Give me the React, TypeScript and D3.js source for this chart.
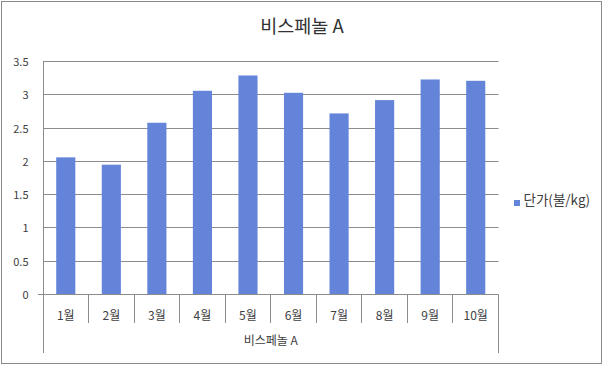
import React from "react";
import * as d3 from "d3";

const months = ["1월", "2월", "3월", "4월", "5월", "6월", "7월", "8월", "9월", "10월"];
const prices = [2.06, 1.95, 2.58, 3.06, 3.29, 3.03, 2.72, 2.92, 3.23, 3.21];
const yTicks = [0, 0.5, 1, 1.5, 2, 2.5, 3, 3.5];
const title = "비스페놀 A";
const groupLabel = "비스페놀 A";
const seriesName = "단가(불/kg)";

const W = 603;
const H = 365;
const left = 43;
const right = 498.5;
const top = 61.5;
const bottom = 294.5;

const font = "'Noto Sans CJK KR', 'Noto Sans', sans-serif";
const gridColor = "#8c8c8c";
const barColor = "#6384d9";
const textColor = "#404040";

export default function App() {
  const x = d3.scaleBand<string>().domain(months).range([left, right]).padding(0);
  const y = d3.scaleLinear().domain([0, 3.5]).range([bottom, top]);
  const bw = x.bandwidth();
  const barW = bw * 0.42;
  const crisp = (v: number) => Math.round(v - 0.5) + 0.5;

  return (
    <svg
      width={W}
      height={H}
      style={{ position: "absolute", left: 0, top: 0, background: "#fff" }}
      fontFamily={font}
    >
      <rect x={1.5} y={1.5} width={W - 3} height={H - 3} fill="#fff" stroke="#8a8a8a" strokeWidth={1} />
      <text x={302} y={33} textAnchor="middle" fontSize={18.5} fill="#333">
        {title}
      </text>
      {yTicks.map((t) => (
        <g key={t}>
          <line
            x1={t === 0 ? 38 : left}
            x2={right}
            y1={crisp(y(t))}
            y2={crisp(y(t))}
            stroke={gridColor}
            strokeWidth={1}
          />
          <text x={28.5} y={y(t) + 4.5} textAnchor="end" fontSize={11} fill={textColor}>
            {t}
          </text>
        </g>
      ))}
      <line x1={crisp(left)} x2={crisp(left)} y1={top} y2={bottom} stroke={gridColor} />
      {months.map((m, i) => {
        const v = prices[i];
        const cx = (x(m) as number) + bw / 2;
        return (
          <rect
            key={"b" + m}
            x={cx - barW / 2}
            y={y(v)}
            width={barW}
            height={y(0) - y(v) - 0.5}
            fill={barColor}
          />
        );
      })}
      {months.map((m, i) => {
        const x0 = x(m) as number;
        return (
          <line
            key={"t" + m}
            x1={crisp(x0)}
            x2={crisp(x0)}
            y1={bottom}
            y2={i === 0 ? 353 : 323}
            stroke={gridColor}
          />
        );
      })}
      <line x1={crisp(right)} x2={crisp(right)} y1={bottom} y2={353} stroke={gridColor} />
      {months.map((m) => (
        <text
          key={"l" + m}
          x={(x(m) as number) + bw / 2}
          y={320}
          textAnchor="middle"
          fontSize={12}
          fill={textColor}
        >
          {m}
        </text>
      ))}
      <text x={(left + right) / 2} y={345} textAnchor="middle" fontSize={12} fill={textColor}>
        {groupLabel}
      </text>
      <rect x={514} y={200} width={6} height={6} fill={barColor} />
      <text x={523.5} y={205} fontSize={13.5} fill={textColor}>
        {seriesName}
      </text>
    </svg>
  );
}
